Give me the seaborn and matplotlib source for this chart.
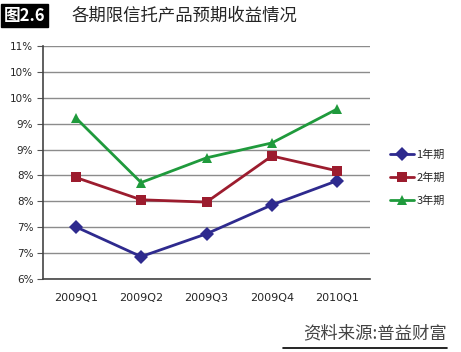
import pandas as pd
import seaborn as sns
import matplotlib.pyplot as plt
import numpy as np

quarters = ['2009Q1', '2009Q2', '2009Q3', '2009Q4', '2010Q1']
y1 = [7.12, 6.48, 6.97, 7.59, 8.11]
y2 = [8.18, 7.70, 7.65, 8.64, 8.32]
y3 = [9.46, 8.07, 8.60, 8.92, 9.65]
series = ['1年期', '2年期', '3年期']
ytick_vals = np.linspace(6, 11, 10)

df = pd.DataFrame({
	'quarter': quarters * 3,
	'x': list(range(5)) * 3,
	'rate': y1 + y2 + y3,
	'term': [s for s in series for _ in quarters],
})

sns.set_style('white')
plt.rcParams['font.family'] = ['Noto Sans CJK SC', 'DejaVu Sans']

fig = plt.figure(figsize=(4.61, 3.52), dpi=100)
ax = fig.add_axes([0.0933, 0.2074, 0.7093, 0.6619])

palette = {'1年期': '#2e2a8e', '2年期': '#9c1c2e', '3年期': '#1f9a3c'}
markers = {'1年期': 'D', '2年期': 's', '3年期': '^'}
sns.lineplot(data=df, x='x', y='rate', hue='term', style='term',
			 palette=palette, markers=markers, dashes=False,
			 linewidth=2, markersize=7, markeredgewidth=0, ax=ax)

ax.set_xlim(-0.5, 4.5)
ax.set_ylim(6, 11)
ax.set_yticks(ytick_vals)
ax.set_yticklabels(['%.0f%%' % v for v in ytick_vals], fontsize=7.5, family='DejaVu Sans')
ax.set_xticks(range(5))
ax.set_xticklabels(quarters, fontsize=8, family='DejaVu Sans')
ax.set_xticks(np.arange(-0.5, 5, 1), minor=True)
ax.tick_params(axis='x', which='major', length=0, pad=10)
ax.tick_params(axis='x', which='minor', length=4, direction='inout', color='#555555')
ax.tick_params(axis='y', length=4, direction='out', color='#555555', left=True, pad=3)
ax.grid(axis='y', color='#8c8c8c', linewidth=1)
ax.set_axisbelow(True)
for s in ['top', 'right']:
	ax.spines[s].set_visible(False)
ax.spines['left'].set_color('#444444')
ax.spines['bottom'].set_color('#444444')
ax.spines['left'].set_linewidth(1.2)
ax.spines['bottom'].set_linewidth(1.2)
ax.set_xlabel('')
ax.set_ylabel('')

leg = ax.legend(loc='center left', bbox_to_anchor=(1.03, 0.435), frameon=False,
				fontsize=8, handlelength=2.2, labelspacing=1.1, handletextpad=0.2)

fig.text(0.008, 0.955, '图2.6', fontsize=12, fontweight='bold', color='white',
		 va='center', ha='left',
		 bbox=dict(boxstyle='square,pad=0.15', facecolor='black', edgecolor='black'))
fig.text(0.155, 0.955, '各期限信托产品预期收益情况', fontsize=12.5, va='center', ha='left')

fig.text(0.97, 0.052, '资料来源:普益财富', fontsize=12.5, va='center', ha='right', color='#444444')
fig.add_artist(plt.Line2D([0.614, 0.97], [0.012, 0.012], color='black', linewidth=1.2))

plt.savefig('out.png', dpi=100)
